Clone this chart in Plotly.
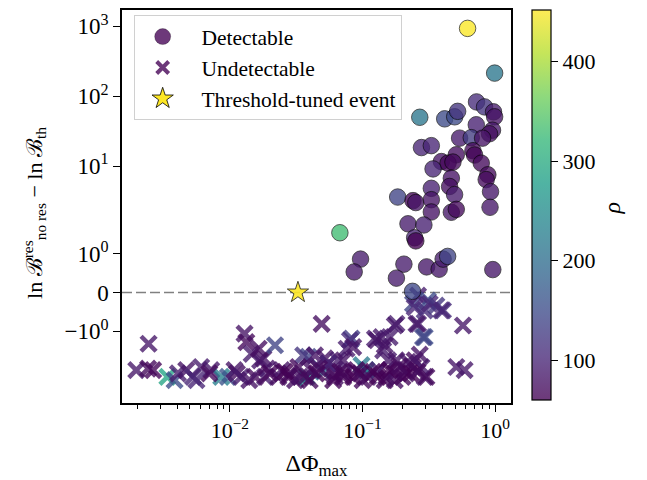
import numpy as np
import plotly.graph_objects as go
from plotly.colors import sequential

# ---------------- data ----------------
det_x = [0.619, 0.99, 0.270, 0.416, 0.495, 0.521, 0.723, 0.831, 0.971, 0.99,
         0.720, 0.954, 0.906, 0.539, 0.660, 0.803, 0.278, 0.330, 0.679, 0.699,
         0.509, 0.393, 0.441, 0.480, 0.785, 0.880, 0.855, 0.340, 0.467, 0.453,
         0.330, 0.494, 0.922, 0.184, 0.240, 0.252, 0.330, 0.330, 0.467, 0.509,
         0.914, 0.220, 0.290, 0.247, 0.252, 0.0675, 0.0966, 0.0865, 0.205, 0.180,
         0.304, 0.378, 0.405, 0.438, 0.959, 0.238]
det_y = [935, 214, 49.9, 47.4, 50.7, 60.7, 82.8, 70.3, 59.7, 50.7,
         39.0, 32.6, 29.0, 25.1, 25.5, 25.1, 18.4, 19.6, 16.6, 14.4,
         14.5, 11.6, 11.0, 11.4, 11.0, 7.5, 6.4, 9.1, 6.7, 5.1,
         4.8, 3.9, 4.3, 3.6, 3.2, 3.0, 3.3, 2.2, 2.18, 2.4,
         2.57, 1.77, 1.74, 1.41, 1.33, 1.54, 0.86, 0.53, 0.73, 0.37,
         0.66, 0.60, 0.86, 0.93, 0.59, 0.03]
det_rho = [450, 215, 215, 150, 150, 120, 110, 120, 90, 80,
           95, 85, 75, 90, 130, 80, 100, 100, 70, 65,
           75, 80, 65, 70, 70, 70, 70, 100, 80, 75,
           95, 90, 85, 140, 65, 80, 80, 80, 85, 70,
           85, 90, 95, 100, 60, 330, 90, 85, 90, 90,
           85, 85, 90, 140, 85, 145]

und_x = [0.00244, 0.00197, 0.00242, 0.00264, 0.00338, 0.00383, 0.00406, 0.00469, 0.00527, 0.00608,
         0.00723, 0.00861, 0.00966, 0.01083, 0.0113, 0.01216, 0.0129, 0.0133, 0.0146, 0.0169,
         0.0179, 0.0219, 0.0190, 0.0184, 0.0232, 0.0155, 0.0246, 0.0284, 0.0276, 0.0310,
         0.0338, 0.0379, 0.0368, 0.0390, 0.0357, 0.0438, 0.0492, 0.0506, 0.0521, 0.0551,
         0.0656, 0.0619, 0.0601, 0.0736, 0.0715, 0.0826, 0.0803, 0.0758, 0.0850, 0.0982,
         0.107, 0.110, 0.124, 0.128, 0.143, 0.151, 0.180, 0.175, 0.160, 0.139,
         0.147, 0.156, 0.180, 0.214, 0.240, 0.247, 0.220, 0.240, 0.262, 0.311,
         0.247, 0.294, 0.321, 0.360, 0.404, 0.393, 0.262, 0.255, 0.571, 0.294,
         0.286, 0.208, 0.175, 0.131, 0.147, 0.175, 0.294, 0.278, 0.509, 0.588,
         0.303, 0.0414, 0.0328, 0.0551, 0.0715, 0.0850, 0.0960, 0.120, 0.200, 0.230,
         0.260, 0.0900, 0.0450, 0.0260, 0.0200, 0.00700, 0.00560, 0.0140, 0.0400, 0.0600,
         0.100, 0.130, 0.160, 0.190, 0.270, 0.0165, 0.0470, 0.0680]
und_y = [-1.32, -2.0, -1.96, -2.0, -2.5, -2.79, -2.23, -2.0, -2.5, -1.92,
         -2.0, -2.5, -2.5, -2.0, -2.23, -2.5, -1.06, -1.28, -1.58, -1.75,
         -1.70, -1.36, -1.96, -2.5, -2.5, -2.5, -2.0, -2.23, -2.5, -2.79,
         -2.5, -2.5, -2.5, -1.66, -1.62, -1.62, -0.81, -2.11, -1.70, -1.83,
         -1.75, -2.5, -2.23, -2.23, -2.5, -1.19, -1.23, -1.45, -1.41, -1.87,
         -2.0, -2.5, -1.19, -1.23, -1.49, -2.5, -0.81, -0.85, -1.15, -1.15,
         -1.36, -1.75, -1.75, -2.23, -1.92, -1.75, -1.79, -0.29, -0.08, -0.21,
         -0.38, -0.46, -0.29, -0.34, -0.46, -0.46, -0.81, -0.81, -0.85, -1.15,
         -1.15, -2.0, -2.23, -2.0, -2.79, -2.79, -2.5, -1.92, -1.92, -2.0,
         -2.5, -2.0, -1.92, -1.83, -1.75, -2.5, -2.23, -2.11, -2.5, -2.23,
         -2.11, -2.0, -2.23, -2.11, -2.23, -2.23, -2.79, -2.79, -2.79, -2.79,
         -2.79, -2.5, -2.0, -1.9, -1.6, -1.45, -1.96, -2.11]
und_rho = [85, 85, 70, 65, 290, 150, 90, 80, 100, 90,
           85, 230, 160, 80, 75, 90, 80, 70, 90, 85,
           80, 140, 80, 90, 75, 70, 80, 70, 65, 75,
           80, 250, 70, 140, 120, 80, 75, 200, 80, 80,
           90, 75, 70, 70, 65, 130, 110, 90, 80, 220,
           230, 80, 90, 80, 90, 70, 90, 85, 90, 85,
           80, 85, 80, 75, 70, 70, 80, 140, 90, 150,
           100, 110, 100, 120, 110, 100, 90, 85, 85, 150,
           140, 70, 75, 85, 70, 75, 80, 90, 85, 85,
           70, 80, 70, 100, 80, 60, 65, 60, 65, 60,
           70, 60, 60, 60, 65, 70, 100, 80, 70, 65,
           70, 60, 60, 70, 80, 75, 70, 65]

star_x = [0.0326]
star_y = [0.0]

rho_min, rho_max = 60, 452
x_tickvals = [0.01, 0.1, 1]
x_ticktext = ["10<sup>−2</sup>", "10<sup>−1</sup>", "10<sup>0</sup>"]
x_minor = [m * 10.0 ** e for e in (-3, -2, -1) for m in range(2, 10)]
y_tickvals = [1000, 100, 10, 1, 0, -1]
y_ticktext = ["10<sup>3</sup>", "10<sup>2</sup>", "10<sup>1</sup>", "10<sup>0</sup>", "0", "−10<sup>0</sup>"]
cbar_tickvals = [100, 200, 300, 400]
legend_names = ["Detectable", "Undetectable", "Threshold-tuned event"]

# ---------------- symlog scale (linthresh=2, linscale=1) ----------------
LINTHRESH = 2.0
LINSCALE_ADJ = 1.0 / (1.0 - 0.1)


def symlog(v):
    v = np.asarray(v, dtype=float)
    a = np.abs(v)
    safe = np.maximum(a, 1e-300)
    return np.where(a <= LINTHRESH, v / LINTHRESH * LINSCALE_ADJ,
                    np.sign(v) * (LINSCALE_ADJ + np.log10(safe / LINTHRESH)))


ALPHA = 0.78


def blend(hexcol, a=ALPHA):
    hexcol = hexcol.lstrip('#')
    r, g, b = (int(hexcol[i:i + 2], 16) for i in (0, 2, 4))
    f = lambda c: int(round(c * a + 255 * (1 - a)))
    return f"rgb({f(r)},{f(g)},{f(b)})"


vir = sequential.Viridis
cbar_scale = [[i / (len(vir) - 1), blend(c)] for i, c in enumerate(vir)]

FONT = "Liberation Serif"
PAD = "\u2002"  # spacing between legend symbol and label

fig = go.Figure()

# undetectable crosses
fig.add_trace(go.Scatter(
    x=und_x, y=symlog(und_y), mode="markers", showlegend=False, hoverinfo="skip",
    marker=dict(symbol="x-thin", size=15, opacity=ALPHA,
                color=und_rho, colorscale="Viridis", cmin=rho_min, cmax=rho_max,
                line=dict(width=4.5, color=und_rho, colorscale="Viridis",
                          cmin=rho_min, cmax=rho_max)),
))

# detectable circles
fig.add_trace(go.Scatter(
    x=det_x, y=symlog(det_y), mode="markers", showlegend=False, hoverinfo="skip",
    marker=dict(symbol="circle", size=16.5, opacity=ALPHA,
                color=det_rho, colorscale="Viridis", cmin=rho_min, cmax=rho_max,
                line=dict(width=0.8, color="black")),
))

# threshold-tuned event
fig.add_trace(go.Scatter(
    x=star_x, y=symlog(star_y), mode="markers", showlegend=False, hoverinfo="skip",
    marker=dict(symbol="star", size=16, color="#fde725", opacity=0.9,
                line=dict(width=0.8, color="black")),
))

# legend entries
fig.add_trace(go.Scatter(x=[None], y=[None], mode="markers", name=PAD + legend_names[0],
                         marker=dict(symbol="circle", size=16, color=blend("#440154"),
                                     line=dict(width=0.5, color="rgba(0,0,0,0.5)"))))
fig.add_trace(go.Scatter(x=[None], y=[None], mode="markers", name=PAD + legend_names[1],
                         marker=dict(symbol="x-thin", size=12, color=blend("#440154"),
                                     line=dict(width=4, color=blend("#440154")))))
fig.add_trace(go.Scatter(x=[None], y=[None], mode="markers", name=PAD + legend_names[2],
                         marker=dict(symbol="star", size=16, color="#fde725",
                                     line=dict(width=0.8, color="black"))))

# colorbar carrier
fig.add_trace(go.Scatter(
    x=[None], y=[None], mode="markers", showlegend=False, hoverinfo="skip",
    marker=dict(color=[rho_min], colorscale=cbar_scale, cmin=rho_min, cmax=rho_max,
                showscale=True,
                colorbar=dict(x=1.055, xanchor="left", y=1.0, yanchor="top",
                              len=0.992, lenmode="fraction", thickness=19,
                              ypad=0, xpad=0, outlinewidth=1.2, outlinecolor="black",
                              tickvals=cbar_tickvals, ticks="outside", ticklen=7,
                              tickwidth=1.2, tickcolor="black",
                              tickfont=dict(family=FONT, size=22, color="black"))),
))

fig.add_shape(type="line", xref="paper", x0=0, x1=1, yref="y", y0=0, y1=0,
              line=dict(color="#808080", width=1.5, dash="10px,4px"), layer="below")

# colorbar label and y-axis label
fig.add_annotation(text="<i>ρ</i>", xref="paper", yref="paper", x=1.26, y=0.495,
                   xanchor="center", yanchor="middle", textangle=-90, showarrow=False,
                   font=dict(family=FONT, size=24, color="black"))
fig.add_annotation(text="ln ℬ<sup>res</sup><sub>no res</sub> − ln ℬ<sub>th</sub>",
                   xref="paper", yref="paper", x=-0.227, y=0.483,
                   xanchor="center", yanchor="middle", textangle=-90, showarrow=False,
                   font=dict(family=FONT, size=22, color="black"))

# the page body adds an 8px offset, so the figure is sized to fill the rest of the window
fig.update_layout(
    width=639, height=472,
    margin=dict(l=113.5, r=135.5, t=0, b=77),
    paper_bgcolor="white", plot_bgcolor="white",
    font=dict(family=FONT, size=22, color="black"),
    legend=dict(x=0.03, y=0.987, xanchor="left", yanchor="top",
                bordercolor="#d0d0d0", borderwidth=1, bgcolor="rgba(255,255,255,0.8)",
                font=dict(family=FONT, size=21.5), itemwidth=46),
)

fig.update_xaxes(type="log", range=[-2.813, 0.119],
                 tickvals=x_tickvals, ticktext=x_ticktext,
                 ticks="outside", ticklen=7, tickwidth=1.2, tickcolor="black",
                 minor=dict(tickvals=x_minor, ticks="outside", ticklen=4, tickwidth=1, tickcolor="black"),
                 showline=True, linecolor="black", linewidth=1.5, mirror=True,
                 showgrid=False, zeroline=False,
                 tickfont=dict(family=FONT, size=22),
                 title=dict(text="ΔΦ<sub>max</sub>", font=dict(family=FONT, size=24)))

fig.update_yaxes(range=[-1.582, 4.044],
                 tickvals=symlog(y_tickvals), ticktext=y_ticktext,
                 ticks="outside", ticklen=7, tickwidth=1.2, tickcolor="black",
                 showline=True, linecolor="black", linewidth=1.5, mirror=True,
                 showgrid=False, zeroline=False,
                 tickfont=dict(family=FONT, size=23))

fig.write_html("out.html")
